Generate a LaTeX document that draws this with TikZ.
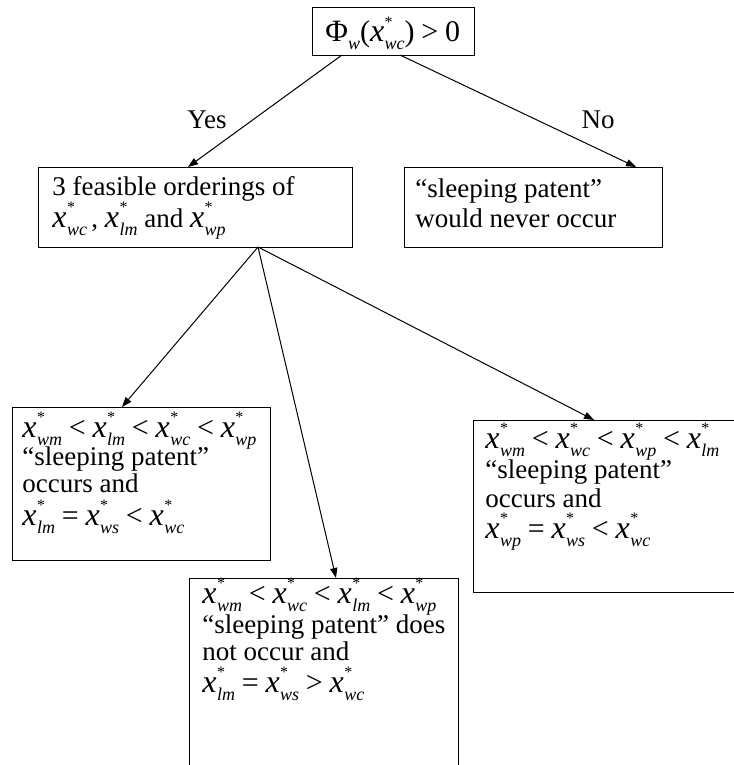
\documentclass[tikz,border=0pt]{standalone}
\usepackage{fontspec}
\setmainfont{Liberation Serif}
\usetikzlibrary{arrows.meta}
% x with star superscript and italic subscript, Times-like
\newcommand\xv[1]{{\fontsize{16}{16}\selectfont\itshape x}\kern0.2pt\rlap{\raisebox{7.3pt}{\fontsize{8}{8}\selectfont *}}\raisebox{-4pt}{\fontsize{9}{9}\selectfont\itshape #1}}
\newcommand\bigf{\fontsize{15}{16}\selectfont}
\newcommand\rel[1]{\hspace{3.4pt}{\bigf #1}\hspace{3.4pt}}
\begin{document}
\lineskiplimit=-100pt\relax
\begin{tikzpicture}[x=0.5pt,y=-0.5pt,
  box/.style={draw, line width=0.6pt, inner sep=0pt, anchor=north west},
  txt/.style={inner sep=0pt, anchor=base west, align=left, font=\fontsize{13.5}{15}\selectfont},
  lbl/.style={inner sep=0pt, anchor=base, font=\fontsize{13.5}{15}\selectfont},
  arr/.style={line width=0.5pt, -{Triangle[length=5pt,width=3.6pt]}}]
\useasboundingbox (0,0) rectangle (733,765);
% boxes
\node[box, minimum width=81pt, minimum height=24pt] (b1) at (312,7) {};
\node[box, minimum width=157pt, minimum height=40pt] (b2) at (38,167) {};
\node[box, minimum width=129pt, minimum height=40pt] (b3) at (404,167) {};
\node[box, minimum width=129pt, minimum height=76.5pt] (b4) at (12,407) {};
\node[box, minimum width=134.5pt, minimum height=98.5pt] (b5) at (189,578) {};
\node[box, minimum width=133.5pt, minimum height=86pt] (b6) at (473,420) {};
% texts (anchored at baseline of last line)
\node[txt] (t1) at (325,42) {{\fontsize{15.5}{16}\selectfont Φ}\raisebox{-4pt}{\fontsize{9}{9}\selectfont\itshape w}{\bigf(}\xv{wc}{\bigf)}\rel{>}{\bigf 0}};
\node[txt] (t2) at (52,227) {3 feasible orderings of\\[1pt] \xv{wc}\,, \xv{lm} and \xv{wp}};
\node[txt] (t3) at (415,227) {``sleeping patent''\\would never occur};
\node[txt] (t4) at (22,525) {\xv{wm}\rel{<}\xv{lm}\rel{<}\xv{wc}\rel{<}\xv{wp}\\[-1pt]``sleeping patent''\\[-1.5pt]occurs and\\[1.5pt]\xv{lm}\rel{=}\xv{ws}\rel{<}\xv{wc}};
\node[txt] (t5) at (202,692) {\xv{wm}\rel{<}\xv{wc}\rel{<}\xv{lm}\rel{<}\xv{wp}\\``sleeping patent'' does\\[-1.5pt]not occur and\\[1pt]\xv{lm}\rel{=}\xv{ws}\rel{>}\xv{wc}};
\node[txt] (t6) at (485,538) {\xv{wm}\rel{<}\xv{wc}\rel{<}\xv{wp}\rel{<}\xv{lm}\\``sleeping patent''\\[-0.5pt]occurs and\\[0.5pt]\xv{wp}\rel{=}\xv{ws}\rel{<}\xv{wc}};
% labels
\node[lbl] (yes) at (207,128) {Yes};
\node[lbl] (no) at (598,128) {No};
% connector points
\coordinate (s1) at (342,55);
\coordinate (s2) at (400,55);
\coordinate (e1) at (188,167);
\coordinate (e2) at (636,167);
\coordinate (s3) at (258,247);
\coordinate (e4) at (122,407);
\coordinate (e5) at (336,578);
\coordinate (e6) at (594,420);
\draw[arr] (s1) -- (e1);
\draw[arr] (s2) -- (e2);
\draw[arr] (s3) -- (e4);
\draw[arr] (s3) -- (e5);
\draw[arr] (s3) -- (e6);
\end{tikzpicture}
\end{document}
